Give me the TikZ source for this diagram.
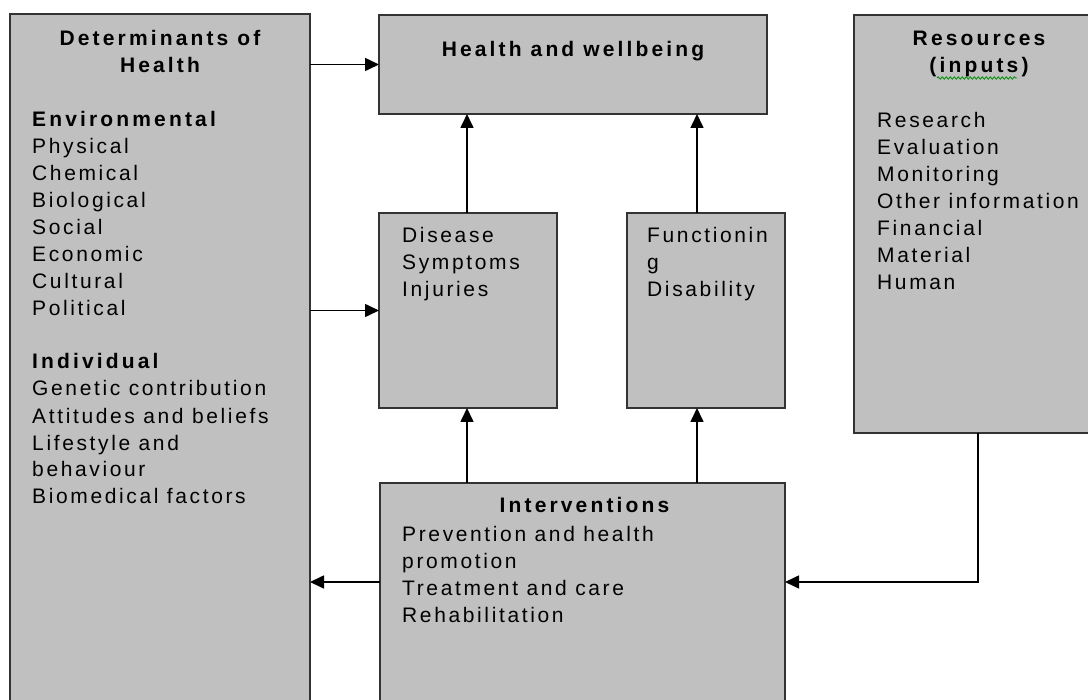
\documentclass[tikz,border=0pt]{standalone}
\usepackage{fontspec}
\setmainfont{Liberation Sans}[LetterSpace=12.5, BoldFeatures={LetterSpace=15}]
\usetikzlibrary{arrows.meta,decorations.pathmorphing}
\definecolor{boxgray}{HTML}{C0C0C0}
\definecolor{edgegray}{HTML}{333333}
\begin{document}
\begin{tikzpicture}[x=1pt,y=-1pt,
  box/.style={draw=edgegray, line width=2pt, fill=boxgray, rectangle, inner sep=0pt, outer sep=0pt},
  txt/.style={font=\fontsize{21}{27}\selectfont, inner sep=0pt, anchor=base west, align=left},
  ttl/.style={font=\bfseries\fontsize{21}{27}\selectfont, inner sep=0pt, anchor=base, align=center},
  arr/.style={line width=1.6pt, draw=black, -{Triangle[length=14pt,width=13pt]}},
  squiggle/.style={draw=green!55!black, line width=0.8pt, decorate, decoration={snake, amplitude=1.2pt, segment length=4pt}}]
\useasboundingbox (0,0) rectangle (1088,700);
\fill[white] (0,0) rectangle (1088,700);
\clip (0,0) rectangle (1088,700);
% boxes
\node[box, minimum width=300pt, minimum height=710pt] (det) at (160,369.5) {};
\node[box, minimum width=388pt, minimum height=99pt] (hw) at (573,64.5) {};
\node[box, minimum width=256pt, minimum height=418pt] (res) at (982,224) {};
\node[box, minimum width=178pt, minimum height=195pt] (dis) at (468,310.5) {};
\node[box, minimum width=158pt, minimum height=195pt] (fun) at (706,310.5) {};
\node[box, minimum width=405pt, minimum height=240pt] (int) at (582.5,603) {};
% helper coordinates
\coordinate (ax1) at (467,0);
\coordinate (ax2) at (697,0);
\coordinate (ay) at (0,582);
\coordinate (rx) at (978,0);
% connectors
\draw[arr] (det.east |- hw.west) -- (hw.west);
\draw[arr] (det.east |- dis.west) -- (dis.west);
\draw[arr] (ax1 |- dis.north) -- (ax1 |- hw.south);
\draw[arr] (ax2 |- fun.north) -- (ax2 |- hw.south);
\draw[arr] (ax1 |- int.north) -- (ax1 |- dis.south);
\draw[arr] (ax2 |- int.north) -- (ax2 |- fun.south);
\draw[arr] (int.west |- ay) -- (det.east |- ay);
\draw[arr] (rx |- res.south) -- (rx |- ay) -- (int.east |- ay);
% texts (base anchor = baseline of the last line)
\node[ttl] (dett) at (160,73) {Determinants of\\Health};
\node[txt] (detx) at (32,504) {\textbf{Environmental}\\Physical\\Chemical\\Biological\\Social\\Economic\\Cultural\\Political\\[27pt]\textbf{Individual}\\Genetic contribution\\Attitudes and beliefs\\Lifestyle and\\behaviour\\Biomedical factors};
\node[ttl] (hwt) at (573,57) {Health and wellbeing};
\node[ttl] (rest) at (979,73) {Resources\\(inputs)};
\draw[squiggle] (937,78) -- (1017,78);
\node[txt] (resx) at (877,290) {Research\\Evaluation\\Monitoring\\Other information\\Financial\\Material\\Human};
\node[txt] (dist) at (402,297) {Disease\\Symptoms\\Injuries};
\node[txt] (funt) at (647,297) {Functionin\\g\\Disability};
\node[ttl] (intt) at (584.5,513) {Interventions};
\node[txt] (intx) at (402,622) {Prevention and health\\promotion\\Treatment and care\\Rehabilitation};
\end{tikzpicture}
\end{document}
